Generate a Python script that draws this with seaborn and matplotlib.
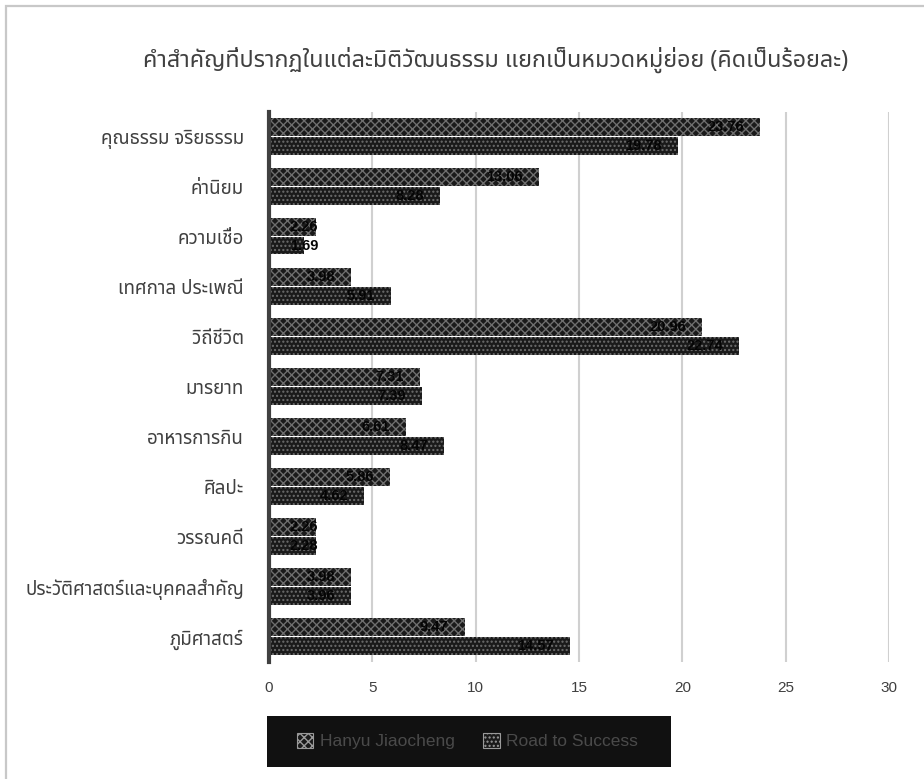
import matplotlib
matplotlib.use("Agg")
import matplotlib.pyplot as plt
from matplotlib import font_manager
from matplotlib.ft2font import FT2Font
from matplotlib.patches import Rectangle, Patch
import seaborn as sns
import pandas as pd

categories = ["คุณธรรม จริยธรรม", "ค่านิยม", "ความเชื่อ", "เทศกาล ประเพณี", "วิถีชีวิต",
              "มารยาท", "อาหารการกิน", "ศิลปะ", "วรรณคดี",
              "ประวัติศาสตร์และบุคคลสำคัญ", "ภูมิศาสตร์"]
hanyu = [23.76, 13.06, 2.26, 3.98, 20.96, 7.31, 6.61, 5.86, 2.26, 3.98, 9.47]
road = [19.78, 8.28, 1.69, 5.91, 22.74, 7.39, 8.47, 4.62, 2.28, 3.96, 14.57]
series_names = ["Hanyu Jiaocheng", "Road to Success"]
title = "คำสำคัญที่ปรากฏในแต่ละมิติวัฒนธรรม แยกเป็นหมวดหมู่ย่อย (คิดเป็นร้อยละ)"
xticks = [0, 5, 10, 15, 20, 25, 30]


def find_thai_font():
    preferred = ["Tahoma", "Leelawadee", "Noto Sans Thai", "Noto Sans Thai UI", "Loma",
                 "Garuda", "Norasi", "Sarabun", "TH Sarabun New", "Kinnari", "Waree",
                 "Umpush", "Tlwg Typo", "Laksaman", "Noto Serif Thai", "FreeSans"]
    found = {}
    paths = set(f.fname for f in font_manager.fontManager.ttflist)
    try:
        paths |= set(font_manager.findSystemFonts())
    except Exception:
        pass
    for p in paths:
        try:
            ft = FT2Font(p)
            cmap = ft.get_charmap()
            if 0x0E04 in cmap and 0x0E33 in cmap:
                try:
                    font_manager.fontManager.addfont(p)
                except Exception:
                    pass
                found[ft.family_name] = p
        except Exception:
            continue
    for name in preferred:
        if name in found:
            return name
    if found:
        return sorted(found)[0]
    return None


sns.set_theme(style="white")
thai = find_thai_font()
families = ([thai] if thai else []) + ["DejaVu Sans"]
plt.rcParams["font.family"] = families
plt.rcParams["hatch.linewidth"] = 1.0
latin = ["Liberation Sans", "DejaVu Sans"]

df = pd.DataFrame({
    "category": categories * 2,
    "value": hanyu + road,
    "series": [series_names[0]] * len(categories) + [series_names[1]] * len(categories),
})

W, H = 924, 779
fig = plt.figure(figsize=(W / 100, H / 100), dpi=100)
ax = fig.add_axes([269 / W, 117 / H, 620 / W, 550 / H])

sns.barplot(data=df, y="category", x="value", hue="series", orient="h",
            palette=["#1a1a1a", "#1a1a1a"], width=0.76, ax=ax, legend=False,
            saturation=1)

hatches = ["xxxx", "...."]
hatch_col = "#6e6e6e"
for i, cont in enumerate(ax.containers):
    for bar, v in zip(cont, cont.datavalues):
        bar.set_hatch(hatches[i])
        bar.set_edgecolor(hatch_col)
        bar.set_linewidth(0)
        bar.set_height(bar.get_height() - 0.03)
        xr = max(v - 0.78, 2.38)
        ax.text(xr, bar.get_y() + bar.get_height() / 2, f"{v:.2f}",
                ha="right", va="center", fontsize=10.5, fontweight="bold",
                color="#050505", family=latin)

ax.set_xlim(0, 30)
ax.set_xticks(xticks)
ax.set_xticklabels([str(t) for t in xticks], fontsize=11, color="#404040", family=latin)
ax.tick_params(axis="x", length=0, pad=14)
ax.tick_params(axis="y", length=0, pad=18, labelsize=13.5, labelcolor="#404040")
ax.set_xlabel("")
ax.set_ylabel("")
ax.grid(axis="x", color="#d0d0d0", linewidth=1.5)
ax.set_axisbelow(True)
for s in ["top", "right", "bottom"]:
    ax.spines[s].set_visible(False)
ax.spines["left"].set_color("#404040")
ax.spines["left"].set_linewidth(3)

fig.text(496 / W, 1 - 60 / H, title, ha="center", va="center",
         fontsize=16.8, color="#404040")

# legend background box
fig.patches.append(Rectangle((267 / W, 1 - 767 / H), (671 - 267) / W, (767 - 716) / H,
                             transform=fig.transFigure, facecolor="#111111",
                             edgecolor="none", zorder=1))
handles = [Patch(facecolor="#1a1a1a", edgecolor="#9a9a9a", hatch=h, linewidth=0.8)
           for h in hatches]
leg = fig.legend(handles, series_names, loc="center left", ncol=2,
                 bbox_to_anchor=(297 / W, 1 - 741 / H),
                 frameon=False, borderpad=0, borderaxespad=0,
                 handlelength=0.95, handleheight=0.95, handletextpad=0.35,
                 columnspacing=1.65, prop={"family": latin, "size": 12.5})
leg.set_zorder(5)
for t in leg.get_texts():
    t.set_color("#4a4a4a")

fig.patches.append(Rectangle((6 / W, -0.05), 1.2, 1.05 - 6 / H,
                             transform=fig.transFigure, fill=False,
                             edgecolor="#c8c8c8", linewidth=1.6))

fig.savefig("out.png", dpi=100)
